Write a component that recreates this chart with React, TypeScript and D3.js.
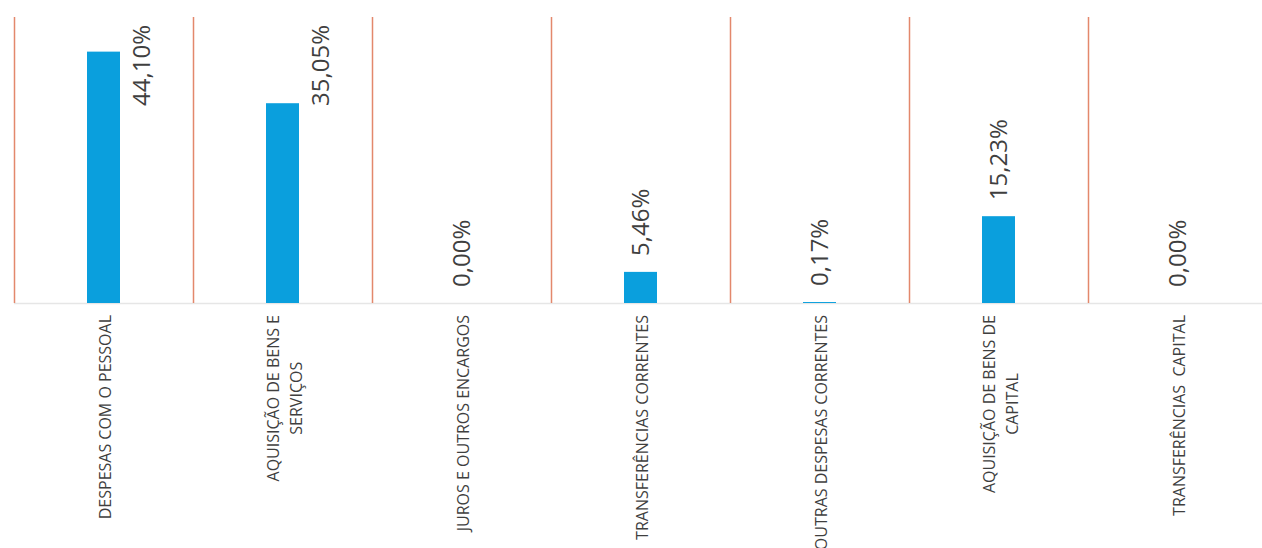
import React, { useEffect, useRef } from "react";
import * as d3 from "d3";

const categories = [
  "DESPESAS COM O PESSOAL",
  "AQUISIÇÃO DE BENS E\nSERVIÇOS",
  "JUROS E OUTROS ENCARGOS",
  "TRANSFERÊNCIAS CORRENTES",
  "OUTRAS DESPESAS CORRENTES",
  "AQUISIÇÃO DE BENS DE\nCAPITAL",
  "TRANSFERÊNCIAS  CAPITAL",
];
const values = [44.1, 35.05, 0.0, 5.46, 0.17, 15.23, 0.0];

const W = 1262;
const H = 548;

export default function App() {
  const ref = useRef<SVGSVGElement | null>(null);

  useEffect(() => {
    const svg = d3.select(ref.current);
    svg.selectAll("*").remove();

    const left = 14;
    const bandW = 179;
    const x = d3
      .scaleBand<string>()
      .domain(categories)
      .range([left, left + bandW * categories.length])
      .padding(0);
    const y = d3.scaleLinear().domain([0, 50]).range([303, 18]);
    const barW = 33;
    const fmt = (v: number) => d3.format(".2f")(v).replace(".", ",") + "%";

    // axis baseline
    svg
      .append("line")
      .attr("x1", left)
      .attr("x2", W)
      .attr("y1", y(0) + 0.5)
      .attr("y2", y(0) + 0.5)
      .attr("stroke", "#e6e6e6")
      .attr("stroke-width", 1.5);

    // red separators
    categories.forEach((c) => {
      const xx = (x(c) as number) + 0.5;
      svg
        .append("line")
        .attr("x1", xx)
        .attr("x2", xx)
        .attr("y1", 17)
        .attr("y2", y(0))
        .attr("stroke", "#e3886c")
        .attr("stroke-width", 1.5);
    });

    // bars
    svg
      .selectAll("rect.bar")
      .data(values)
      .enter()
      .append("rect")
      .attr("class", "bar")
      .attr("x", (_, i) => (x(categories[i]) as number) + x.bandwidth() / 2 - barW / 2)
      .attr("y", (d) => y(d))
      .attr("width", barW)
      .attr("height", (d) => y(0) - y(d))
      .attr("fill", "#0a9fdd");

    // value labels
    const topLimit = 25;
    values.forEach((v, i) => {
      const cx = (x(categories[i]) as number) + x.bandwidth() / 2;
      const t = svg
        .append("text")
        .text(fmt(v))
        .attr("font-family", "'Open Sans', sans-serif")
        .attr("font-size", 24)
        .attr("fill", "#3f3f3f")
        .attr("text-anchor", "start")
        .attr("dy", "0.35em");
      const len = (t.node() as SVGTextElement).getComputedTextLength();
      let bottom = y(v) - 16;
      let px = cx;
      if (bottom - len < topLimit) {
        bottom = topLimit + len;
        px = cx + 38;
      }
      t.attr("transform", `translate(${px},${bottom}) rotate(-90)`);
    });

    // category labels
    const labTop = 315;
    const lineGap = 23;
    categories.forEach((c) => {
      const cx = (x(c) as number) + x.bandwidth() / 2 + 2;
      const lines = c.split("\n");
      const g = svg.append("g");
      const texts = lines.map((ln) =>
        g
          .append("text")
          .text(ln)
          .attr("font-family", "'Open Sans', sans-serif")
          .attr("font-size", 16)
          .attr("fill", "#3f3f3f")
          .attr("text-anchor", "middle")
          .attr("dy", "0.35em")
          .style("white-space", "pre")
      );
      const maxLen = d3.max(texts, (t) => (t.node() as SVGTextElement).getComputedTextLength()) || 0;
      const cy = labTop + maxLen / 2;
      texts.forEach((t, k) => {
        const lx = cx + (k - (lines.length - 1) / 2) * lineGap;
        t.attr("transform", `translate(${lx},${cy}) rotate(-90)`);
      });
    });
  }, []);

  return (
    <svg
      ref={ref}
      width={W}
      height={H}
      style={{ position: "absolute", left: 0, top: 0, background: "#fff" }}
    />
  );
}
